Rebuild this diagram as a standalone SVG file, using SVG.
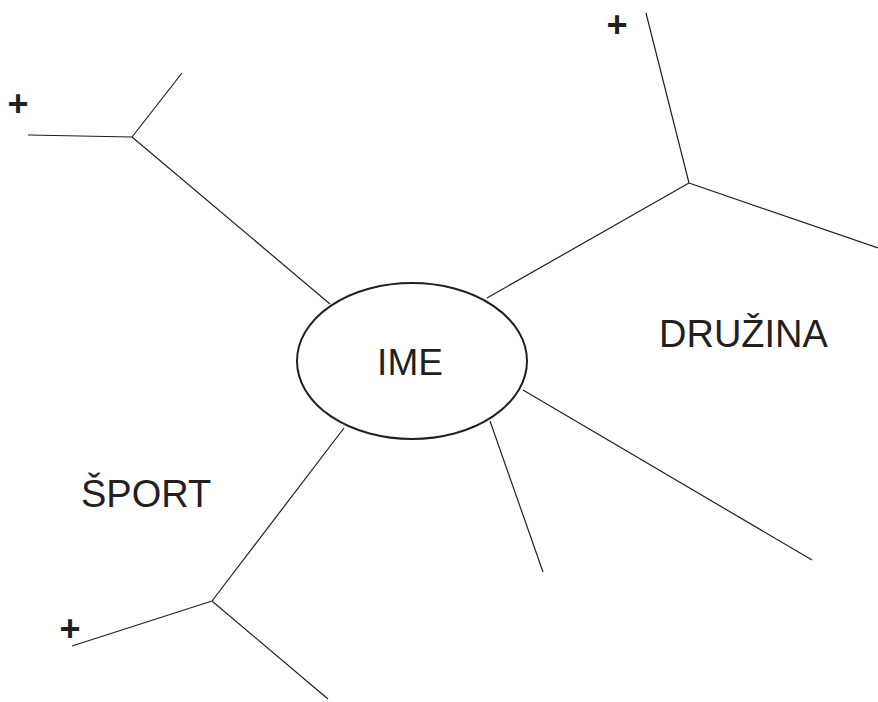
<svg xmlns="http://www.w3.org/2000/svg" width="878" height="702" viewBox="0 0 878 702">
<style>
.ln{stroke:#231f20;stroke-width:1.2;fill:none}
.t{font-family:"Liberation Sans",Arial,sans-serif;fill:#231f20}
.lbl{font-size:38px}
.plus{font-size:36px;font-weight:bold;text-anchor:middle}
</style>
<rect width="878" height="702" fill="#fff"/>
<g id="connectors">
<path class="ln" d="M330,304 L132,137 M132,137 L182,73 M132,137 L28,135"/>
<path class="ln" d="M487,298 L689,183 M689,183 L646,13 M689,183 L878,248"/>
<path class="ln" d="M523,390 L812,560"/>
<path class="ln" d="M490,421 L543,572"/>
<path class="ln" d="M344,428 L212,601 M212,601 L72,646 M212,601 L328,699"/>
</g>
<g id="ime">
<ellipse cx="412" cy="361" rx="115" ry="78" fill="#fff" stroke="#231f20" stroke-width="2"/>
<text class="t" style="font-size:37px" x="410" y="375" text-anchor="middle">IME</text>
</g>
<g id="druzina"><text class="t lbl" x="659" y="347">DRUŽINA</text></g>
<g id="sport"><text class="t lbl" x="81" y="507">ŠPORT</text></g>
<g id="plus1"><text class="t plus" x="18" y="116">+</text></g>
<g id="plus2"><text class="t plus" x="617" y="37">+</text></g>
<g id="plus3"><text class="t plus" x="70" y="641">+</text></g>
</svg>
